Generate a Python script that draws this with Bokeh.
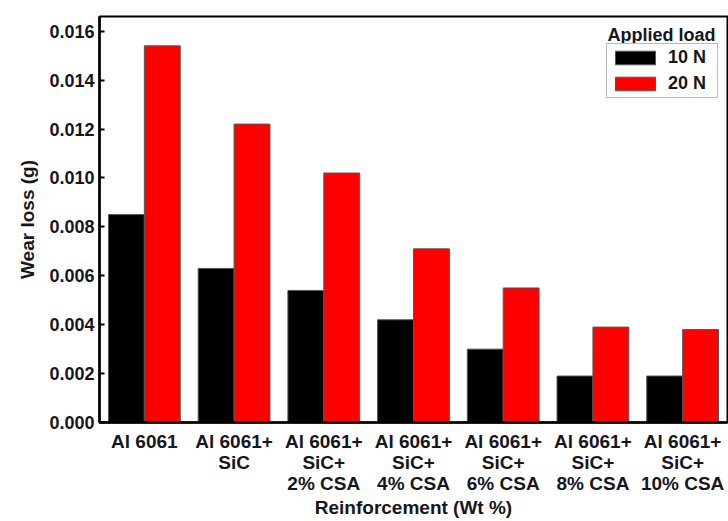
from bokeh.plotting import figure
from bokeh.models import (ColumnDataSource, FactorRange, Range1d, FixedTicker,
                          NumeralTickFormatter, Legend, LegendItem, Label)
from bokeh.transform import dodge
from bokeh.embed import file_html
from bokeh.resources import INLINE

# Wear loss (g) of Al 6061 composites at two applied loads
categories = ["Al 6061", "Al 6061+\nSiC", "Al 6061+\nSiC+\n2% CSA", "Al 6061+\nSiC+\n4% CSA",
              "Al 6061+\nSiC+\n6% CSA", "Al 6061+\nSiC+\n8% CSA", "Al 6061+\nSiC+\n10% CSA"]
load_10N = [0.0085, 0.0063, 0.0054, 0.0042, 0.0030, 0.0019, 0.0019]
load_20N = [0.0154, 0.0122, 0.0102, 0.0071, 0.0055, 0.0039, 0.0038]
y_ticks = [0.000, 0.002, 0.004, 0.006, 0.008, 0.010, 0.012, 0.014, 0.016]

src = ColumnDataSource(data=dict(cat=categories, w10=load_10N, w20=load_20N))

FONT = "Liberation Sans"
TXT = "#161620"

p = figure(width=728, height=521, x_range=FactorRange(*categories, range_padding=0),
           y_range=Range1d(0, 0.0166), output_backend="svg", toolbar_location=None,
           min_border_left=99, min_border_right=1, min_border_top=16, min_border_bottom=99)

r10 = p.vbar(x=dodge("cat", -0.2, range=p.x_range), top="w10", width=0.4, source=src,
             fill_color="black", line_color="#555555", line_width=1)
r20 = p.vbar(x=dodge("cat", 0.2, range=p.x_range), top="w20", width=0.4, source=src,
             fill_color="#ff0000", line_color="#555555", line_width=1)

p.grid.visible = False
p.outline_line_color = "black"
p.outline_line_width = 2

# y axis
ya = p.yaxis[0]
ya.ticker = FixedTicker(ticks=y_ticks)
ya.formatter = NumeralTickFormatter(format="0.000")
ya.axis_label = "Wear loss (g)"
ya.axis_label_text_font = FONT
ya.axis_label_text_font_style = "bold"
ya.axis_label_text_font_size = "19px"
ya.axis_label_text_color = TXT
ya.axis_label_standoff = 8
ya.major_label_text_font = FONT
ya.major_label_text_font_style = "bold"
ya.major_label_text_font_size = "18px"
ya.major_label_text_color = TXT
ya.major_label_standoff = 5
ya.axis_line_width = 2.5
ya.major_tick_line_width = 2
ya.major_tick_in = 5
ya.major_tick_out = 0
ya.minor_tick_line_color = None

# x axis
xa = p.xaxis[0]
xa.axis_label = "Reinforcement (Wt %)"
xa.axis_label_text_font = FONT
xa.axis_label_text_font_style = "bold"
xa.axis_label_text_font_size = "19px"
xa.axis_label_text_color = TXT
xa.axis_label_standoff = 0
xa.major_label_text_font = FONT
xa.major_label_text_font_style = "bold"
xa.major_label_text_font_size = "19px"
xa.major_label_text_color = TXT
xa.major_label_text_line_height = 1.0
xa.major_label_standoff = 2
xa.axis_line_width = 2.5
xa.major_tick_line_color = None
xa.minor_tick_line_color = None

legend = Legend(items=[LegendItem(label="10 N", renderers=[r10]),
                       LegendItem(label="20 N", renderers=[r20])],
                location=(507, 324), orientation="vertical",
                glyph_width=50, glyph_height=17, label_standoff=8, label_width=46,
                label_text_font=FONT, label_text_font_style="bold",
                label_text_font_size="18px", label_text_color=TXT,
                spacing=5, padding=3, margin=0,
                border_line_color="#777777", border_line_width=1.5,
                background_fill_color="white")
p.add_layout(legend)

p.add_layout(Label(x=508, y=388, x_units="screen", y_units="screen", text="Applied load",
                   text_font=FONT, text_font_style="bold", text_font_size="18px",
                   text_color=TXT, text_align="left", text_baseline="alphabetic"))

open("out.html", "w").write(file_html(p, INLINE))
